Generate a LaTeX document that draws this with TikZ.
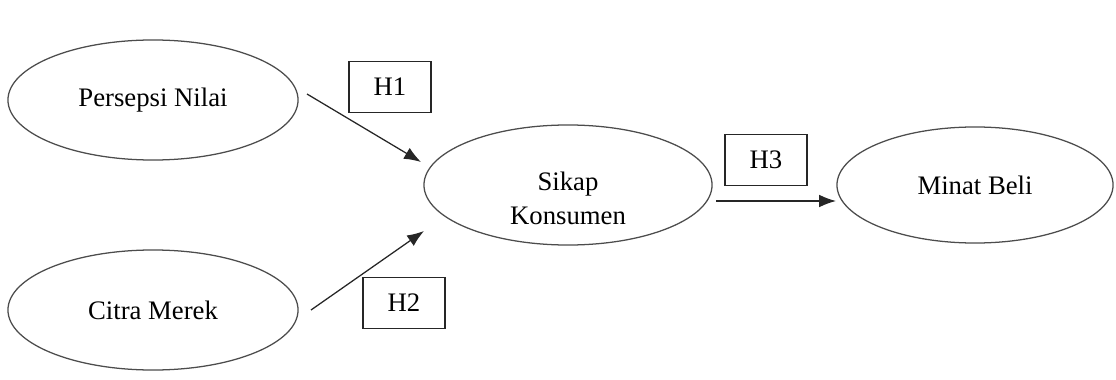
\documentclass[tikz,border=0pt]{standalone}
\usepackage{fontspec}
\setmainfont{Liberation Serif}
\usetikzlibrary{arrows.meta,shapes.geometric}

\begin{document}
\begin{tikzpicture}[x=0.025cm,y=-0.025cm,
  var/.style={ellipse,draw=black!70,line width=0.9pt,align=center,inner sep=0pt},
  hyp/.style={draw=black!85,line width=0.9pt,minimum width=2.05cm,minimum height=1.27cm,inner sep=0pt},
  link/.style={-{Latex[length=12pt,width=9pt]},line width=0.9pt,black!85}]
\useasboundingbox (0,0) rectangle (1116,380);
\fontsize{19}{24}\selectfont
% latent variables
\node[var,minimum width=7.25cm,minimum height=3cm] (nilai) at (153,100) {Persepsi Nilai};
\node[var,minimum width=7.25cm,minimum height=3cm] (citra) at (153,310) {Citra Merek};
\node[var,minimum width=7.2cm,minimum height=3cm] (sikap) at (568,185) {};
\node[align=center] (sikaplab) at (568,198) {Sikap\\Konsumen};
\node[var,minimum width=6.9cm,minimum height=2.9cm] (minat) at (975,185) {Minat Beli};
% hypotheses
\node[hyp] (h1) at (390,87) {H1};
\node[hyp] (h2) at (404,303) {H2};
\node[hyp] (h3) at (766,160) {H3};
% paths
\coordinate (p1s) at (307,94);  \coordinate (p1e) at (421,162);
\coordinate (p2s) at (311,310); \coordinate (p2e) at (424,231);
\coordinate (p3s) at (716,201); \coordinate (p3e) at (836,201);
\draw[link] (p1s) -- (p1e);
\draw[link] (p2s) -- (p2e);
\draw[link] (p3s) -- (p3e);
\end{tikzpicture}
\end{document}
